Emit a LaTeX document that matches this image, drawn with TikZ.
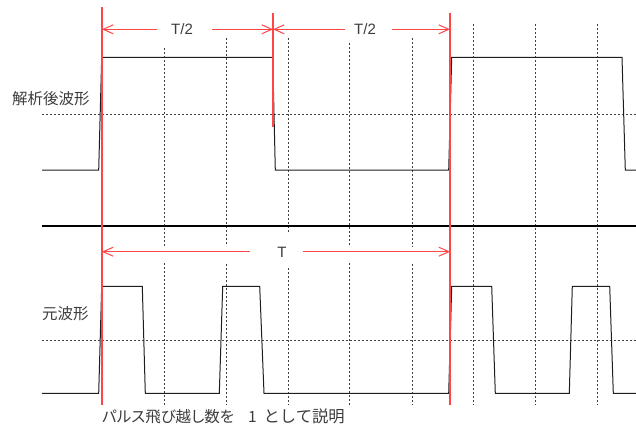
\documentclass[tikz,border=0pt]{standalone}
\usepackage{fontspec}
\setmainfont{Liberation Sans}
\newfontfamily\jpfont{Noto Sans CJK JP}
\newfontfamily\jppfont[RawFeature=+palt]{Noto Sans CJK JP}
\usetikzlibrary{arrows.meta}
\definecolor{redline}{RGB}{255,70,70}
\definecolor{txtgray}{RGB}{60,60,60}
\definecolor{wave}{RGB}{30,30,30}
\tikzset{
  grid/.style={draw=black!75, line width=0.9pt, dash pattern=on 2pt off 2pt},
  wavestyle/.style={draw=wave, line width=1pt},
  marker/.style={draw=redline, line width=1.4pt},
  dim/.style={draw=redline, line width=1pt},
  barb/.style={-{Straight Barb[length=10pt,width=9pt]}},
  dimlabel/.style={text=txtgray, font=\fontsize{15}{15}\selectfont, inner sep=0pt},
  jplabel/.style={text=txtgray, font=\jpfont\fontsize{15.5}{15.5}\selectfont, inner sep=0pt},
  jpnote/.style={text=txtgray, font=\jppfont\fontsize{15.5}{15.5}\selectfont, inner sep=0pt}
}
\begin{document}
\begin{tikzpicture}[x=1pt,y=-1pt]
\useasboundingbox (0,0) rectangle (636,428);
% horizontal dashed reference lines
\draw[grid] (42,114) -- (636,114);
\draw[grid] (42,340) -- (636,340);
% vertical dashed grid lines
\draw[grid] (164,48) -- (164,246) (164,263) -- (164,405);
\draw[grid] (226,38) -- (226,246) (226,264) -- (226,405);
\draw[grid] (288,38) -- (288,233) (288,268) -- (288,405);
\draw[grid] (349,43) -- (349,246) (349,263) -- (349,405);
\draw[grid] (412,38) -- (412,247) (412,264) -- (412,405);
\foreach \x in {473,535,597} \draw[grid] (\x,24) -- (\x,405);
% separator
\draw[draw=black, line width=2pt] (42,226) -- (636,226);
% upper (analysed) waveform
\draw[wavestyle] (42,170) -- (98.7,170) -- (101.7,57.3) -- (272.7,57.3) -- (275.3,170)
  -- (448.7,170) -- (451.7,57.3) -- (622,57.3) -- (625.3,170) -- (636,170);
% lower (original) waveform
\draw[wavestyle] (42,393.3) -- (98.7,393.3) -- (101.7,286.3) -- (142.3,286.3) -- (145.3,393.3)
  -- (219.3,393.3) -- (222.7,286.3) -- (259.7,286.3) -- (264,393.3)
  -- (448.7,393.3) -- (451.7,286.3) -- (491.7,286.3) -- (495.3,393.3)
  -- (569.3,393.3) -- (572.3,286.3) -- (609.7,286.3) -- (613.3,393.3) -- (636,393.3);
% red marker lines
\draw[marker] (102,7) -- (102,405);
\draw[marker] (273,13) -- (273,127);
\draw[marker] (450,13) -- (450,405);
% dimension labels
\node[dimlabel] (h1) at (182,29) {T/2};
\node[dimlabel] (h2) at (365,29) {T/2};
\node[dimlabel] (full) at (282,252) {T};
\coordinate (a0) at (102,29.3);
\coordinate (a1) at (157,29.3);
\coordinate (a2) at (212,29.3);
\coordinate (a3) at (273,29.3);
\coordinate (a4) at (345,29.3);
\coordinate (a5) at (392,29.3);
\coordinate (a6) at (450,29.3);
\coordinate (b0) at (102,251.7);
\coordinate (b1) at (250,251.7);
\coordinate (b2) at (303,251.7);
\coordinate (b3) at (450,251.7);
\draw[dim,barb] (a1) -- (a0);
\draw[dim,barb] (a2) -- (a3);
\draw[dim,barb] (a4) -- (a3);
\draw[dim,barb] (a5) -- (a6);
\draw[dim,barb] (b1) -- (b0);
\draw[dim,barb] (b2) -- (b3);
% Japanese labels
\node[jplabel, anchor=west] (upper) at (12,98.5) {解析後波形};
\node[jplabel, anchor=west] (lower) at (42,314) {元波形};
\node[jpnote, anchor=west] (note) at (102,416.5) {パルス飛び越し数を\hspace{0.9em}1\hspace{0.45em}{\jpfont\fontsize{16.3}{16.3}\selectfont として説明}};
\end{tikzpicture}
\end{document}
